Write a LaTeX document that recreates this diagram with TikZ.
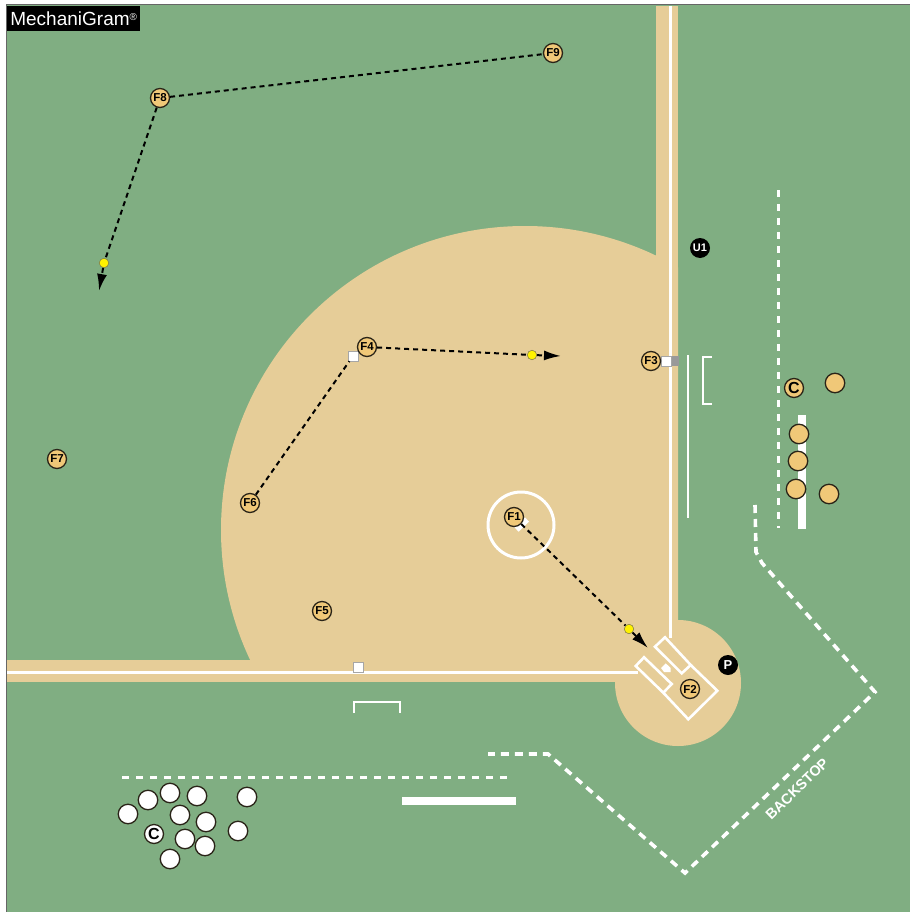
\documentclass[tikz,border=0pt]{standalone}
\usepackage{fontspec}
\setmainfont{Liberation Sans}
\usetikzlibrary{arrows.meta}
\definecolor{turf}{HTML}{80AE82}
\definecolor{dirt}{HTML}{E6CD98}
\definecolor{tanfill}{HTML}{F0C878}
\definecolor{inkdark}{HTML}{2A2418}
\tikzset{
 x=1pt,y=-1pt,
 fielder/.style={circle,draw=inkdark,line width=1.3pt,fill=tanfill,minimum size=19pt,inner sep=0pt,font=\bfseries\fontsize{11.5}{12}\selectfont,text=black},
 coach/.style={fielder,font=\bfseries\fontsize{16}{16}\selectfont},
 blank/.style={circle,draw=inkdark,line width=1.3pt,fill=tanfill,minimum size=19.5pt,inner sep=0pt},
 whiteguy/.style={blank,fill=white},
 ump/.style={circle,fill=black,minimum size=20pt,inner sep=0pt,text=white,font=\bfseries\fontsize{11}{11}\selectfont},
 ball/.style={circle,draw=black!60!yellow,line width=0.5pt,fill=yellow,minimum size=9.5pt,inner sep=0pt},
 basebag/.style={draw=black!35,line width=0.4pt,fill=white,minimum size=10pt,inner sep=0pt},
 run/.style={draw=black,line width=2pt,dash pattern=on 5pt off 4pt},
 runend/.style={run,-{Latex[length=17pt,width=10pt,sep=0pt]}},
 chalk/.style={draw=white,line width=2.6pt},
 dashchalk/.style={draw=white,line width=3.6pt,dash pattern=on 8pt off 6pt},
 thinchalk/.style={draw=white,line width=3pt,dash pattern=on 7pt off 7pt},
}
\begin{document}
\begin{tikzpicture}
\useasboundingbox (0,0) rectangle (910,912);
\fill[white] (0,0) rectangle (910,912);
\fill[turf] (6,5) rectangle (910,912);
\draw[black!60,line width=1pt] (6,912) -- (6,5) -- (910,5);
% dirt
\begin{scope}
\clip (7,6) rectangle (678,681.5);
\fill[dirt] (525,530) circle[radius=304];
\end{scope}
\fill[dirt] (656,6) rectangle (678,640);
\fill[dirt] (7,660) rectangle (640,681.5);
\fill[dirt] (678,683) circle[radius=63];
% foul lines
\draw[chalk,line width=3pt] (670,6) -- (670,638);
\draw[chalk,line width=3pt] (7,672) -- (638,672);
% boxes
\draw[chalk,line join=miter] (665,637.3) -- (655,646.7) -- (681.7,673.3) -- (690.7,665) -- cycle;
\draw[chalk,line join=miter] (644,657.3) -- (635.7,666) -- (663.3,692.7) -- (671.7,684) -- cycle;
\draw[chalk,line join=miter] (690.7,665) -- (717.3,690.7) -- (688.3,719.3) -- (663.3,692.7);
\fill[white] (661,668) -- (665.7,663.3) -- (670.7,668) -- (670.7,672) -- (664,672) -- cycle;
% pitcher circle
\draw[chalk,line width=3pt] (521,525) circle[radius=33];
\draw[white,line width=6pt] (516.5,529.5) -- (527,519.5);
% coach boxes and lines
\draw[chalk,line width=2.2pt] (688,355) -- (688,518);
\draw[chalk] (712,357) -- (703,357) -- (703,404) -- (712,404);
\draw[chalk] (354,713) -- (354,702) -- (400,702) -- (400,713);
\draw[thinchalk] (778,190) -- (778,528);
\fill[white] (798,415) rectangle (806,529);
\draw[thinchalk] (122,777) -- (513,777);
\fill[white] (402,797) rectangle (516,805);
\draw[dashchalk,line join=miter] (755,505) -- (756,552) -- (762,563) -- (875,692) -- (685,873) -- (548,754) -- (488,754);
\node[rotate=44,text=white,font=\bfseries\fontsize{14.5}{15}\selectfont] (backstop) at (797,789) {BACKSTOP};
% bases
\fill[black!40] (668,356) rectangle (679,366);
\node[basebag] (first) at (666,361) {};
\node[basebag] (second) at (353,356) {};
\node[basebag] (third) at (358,667) {};
% logo
\node[fill=black,text=white,anchor=north west,minimum width=133pt,minimum height=25pt,inner sep=0pt,font=\fontsize{19}{20}\selectfont] (logo) at (7,6) {MechaniGram\raisebox{5pt}{\fontsize{10}{10}\selectfont ®}};
% players
\node[fielder] (F8) at (160,98) {F8};
\node[fielder] (F9) at (553,53) {F9};
\node[fielder] (F4) at (367,347) {F4};
\node[fielder] (F3) at (651,361) {F3};
\node[fielder] (F6) at (250,503) {F6};
\node[fielder] (F7) at (57,459) {F7};
\node[fielder] (F5) at (322,611) {F5};
\node[fielder] (F1) at (514,517) {F1};
\node[fielder] (F2) at (690,689) {F2};
\node[coach] (coachA) at (794,388) {C};
\node[ump] (U1) at (700,248) {U1};
\node[ump,font=\bfseries\fontsize{13}{13}\selectfont] (P) at (728,665) {P};
\node[blank] (t1) at (835,383) {};
\node[blank] (t2) at (799,434) {};
\node[blank] (t3) at (798,461) {};
\node[blank] (t4) at (796,489) {};
\node[blank] (t5) at (829,494) {};
\node[whiteguy] (w1) at (128,814) {};
\node[whiteguy] (w2) at (148,800) {};
\node[whiteguy] (w3) at (170,793) {};
\node[whiteguy] (w4) at (197,796) {};
\node[whiteguy] (w5) at (247,797) {};
\node[whiteguy] (w6) at (180,815) {};
\node[whiteguy] (w7) at (206,822) {};
\node[whiteguy] (w8) at (238,831) {};
\node[whiteguy] (w9) at (185,839) {};
\node[whiteguy] (w10) at (205,846) {};
\node[whiteguy] (w11) at (170,859) {};
\node[coach,fill=white] (coachB) at (154,834) {C};
% balls
\node[ball] (b1) at (104,263) {};
\node[ball] (b2) at (532,355) {};
\node[ball] (b3) at (629,629) {};
\coordinate (e1) at (99,291);
\coordinate (e2) at (561,356);
\coordinate (e3) at (648,648);
% runs
\draw[run] (F8) -- (F9);
\draw[run] (F8) -- (b1);
\draw[runend] (b1) -- (e1);
\draw[run] (F4) -- (b2);
\draw[runend] (b2) -- (e2);
\draw[run] (F6) -- (second);
\draw[run] (F1) -- (b3);
\draw[runend] (b3) -- (e3);
\end{tikzpicture}
\end{document}
